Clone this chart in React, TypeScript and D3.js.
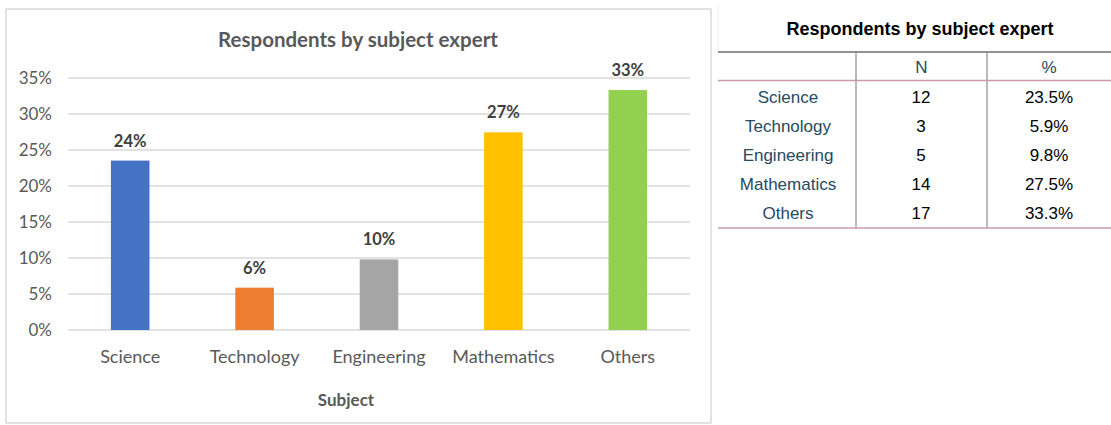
import React from "react";
import * as d3 from "d3";

const categories = ["Science", "Technology", "Engineering", "Mathematics", "Others"];
const shares = [23.53, 5.88, 9.8, 27.45, 33.33];
const tablePct = ["23.5%", "5.9%", "9.8%", "27.5%", "33.3%"];
const counts = [12, 3, 5, 14, 17];
const colors = ["#4472C4", "#ED7D31", "#A5A5A5", "#FFC000", "#92D050"];
const yTicks = [0, 5, 10, 15, 20, 25, 30, 35];
const chartTitle = "Respondents by subject expert";
const xTitle = "Subject";
const tableHeaders = ["N", "%"];

const W = 1111;
const H = 425;

export default function App() {
  const plotLeft = 68;
  const plotRight = 690;
  const yTop = 78;
  const yBottom = 330;
  const x = d3.scaleBand().domain(categories).range([plotLeft, plotRight]).paddingInner(0.69).paddingOuter(0.345);
  const y = d3.scaleLinear().domain([0, 35]).range([yBottom, yTop]);
  const font = "Lato, 'Open Sans', sans-serif";
  const arial = "'Liberation Sans', Arial, sans-serif";

  const tLeft = 718;
  const tRight = 1111;
  const col1 = 856;
  const col2 = 987;
  const rowY = d3.scaleLinear().domain([0, 4]).range([97, 213]);

  return (
    <svg width={W} height={H} style={{ position: "absolute", left: 0, top: 0, background: "#fff" }}>
      <rect x={0} y={0} width={W} height={H} fill="#fff" />
      <rect x={6} y={9} width={705} height={414} fill="#fff" stroke="#d9d9d9" strokeWidth={1.5} />
      <text x={358} y={47} textAnchor="middle" fontFamily={font} fontWeight="bold" fontSize={20.5} fill="#595959">
        {chartTitle}
      </text>
      {yTicks.map((t) => (
        <g key={t}>
          <line x1={plotLeft} x2={plotRight} y1={y(t)} y2={y(t)} stroke="#d9d9d9" strokeWidth={1.5} />
          <text x={52} y={y(t) + 6} textAnchor="end" fontFamily={font} fontSize={17} fill="#595959">
            {t}%
          </text>
        </g>
      ))}
      {categories.map((c, i) => (
        <g key={c}>
          <rect x={x(c)} y={y(shares[i])} width={x.bandwidth()} height={yBottom - y(shares[i])} fill={colors[i]} />
          <text
            x={(x(c) as number) + x.bandwidth() / 2}
            y={y(shares[i]) - 14}
            textAnchor="middle"
            fontFamily={font}
            fontWeight="bold"
            fontSize={16.5}
            fill="#404040"
          >
            {Math.round(shares[i])}%
          </text>
          <text
            x={(x(c) as number) + x.bandwidth() / 2}
            y={363}
            textAnchor="middle"
            fontFamily={font}
            fontSize={18}
            fill="#595959"
          >
            {c}
          </text>
        </g>
      ))}
      <text x={346} y={406} textAnchor="middle" fontFamily={font} fontWeight="bold" fontSize={17} fill="#595959">
        {xTitle}
      </text>

      <line x1={718} x2={718} y1={5} y2={52} stroke="#f0f0f0" strokeWidth={1.5} />
      <text x={920} y={35} textAnchor="middle" fontFamily={arial} fontWeight="bold" fontSize={18} fill="#000">
        {chartTitle}
      </text>
      <line x1={tLeft} x2={tRight} y1={52} y2={52} stroke="#6e6e6e" strokeWidth={1.5} />
      <line x1={col1} x2={col1} y1={52} y2={228} stroke="#8a8a8a" strokeWidth={1.2} />
      <line x1={col2} x2={col2} y1={52} y2={228} stroke="#8a8a8a" strokeWidth={1.2} />
      <text x={(col1 + col2) / 2} y={73} textAnchor="middle" fontFamily={arial} fontSize={17} fill="#264a60">
        {tableHeaders[0]}
      </text>
      <text x={(col2 + tRight) / 2} y={73} textAnchor="middle" fontFamily={arial} fontSize={17} fill="#264a60">
        {tableHeaders[1]}
      </text>
      <line x1={tLeft} x2={tRight} y1={80.5} y2={80.5} stroke="#c99aae" strokeWidth={1.5} />
      {categories.map((c, i) => (
        <g key={"row" + c}>
          <text x={788} y={rowY(i) + 6} textAnchor="middle" fontFamily={arial} fontSize={17} fill="#264a60">
            {c}
          </text>
          <text x={921} y={rowY(i) + 6} textAnchor="middle" fontFamily={arial} fontSize={17} fill="#010101">
            {counts[i]}
          </text>
          <text x={1049} y={rowY(i) + 6} textAnchor="middle" fontFamily={arial} fontSize={17} fill="#010101">
            {tablePct[i]}
          </text>
        </g>
      ))}
      <line x1={tLeft} x2={tRight} y1={228} y2={228} stroke="#c99aae" strokeWidth={1.5} />
    </svg>
  );
}
